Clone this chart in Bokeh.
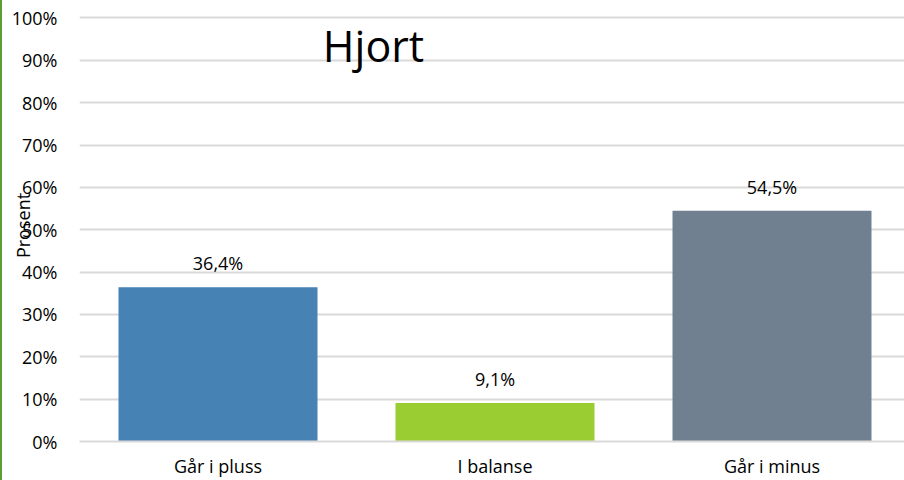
from bokeh.plotting import figure
from bokeh.models import Range1d, FixedTicker, NumeralTickFormatter, ColumnDataSource
from bokeh.core.properties import value
from bokeh.embed import file_html
from bokeh.resources import INLINE

categories = ["Går i pluss", "I balanse", "Går i minus"]
values = [0.364, 0.091, 0.545]
colors = ["#4682B4", "#9ACD32", "#708090"]
labels = ["36,4%", "9,1%", "54,5%"]
y_ticks = [0.0, 0.1, 0.2, 0.3, 0.4, 0.5, 0.6, 0.7, 0.8, 0.9, 1.0]
title_text = "Hjort"
y_label = "Prosent"

FONT = "Open Sans"
xs = [i + 0.5 for i in range(len(categories))]

p = figure(width=904, height=480, output_backend="svg", toolbar_location=None,
           x_range=Range1d(0, 827 / 277.0), y_range=Range1d(0, 1.02),
           min_border_left=77, min_border_top=9, min_border_right=0, min_border_bottom=0)
p.outline_line_color = None
p.background_fill_color = "white"

src = ColumnDataSource(dict(x=xs, top=values, color=colors, label=labels))
p.vbar(x="x", top="top", width=199 / 277.0, bottom=0, color="color", line_color=None, source=src)
p.text(x="x", y="top", text="label", source=src, text_align="center", text_baseline="bottom",
       y_offset=-12, text_font=value(FONT), text_font_size="18px", text_color="#000000")

p.text(x=[(373 - 79) / 277.0], y=[0.935], text=[title_text], text_align="center",
       text_baseline="middle", text_font=value(FONT), text_font_size="43px", text_color="#000000")

# axes
p.yaxis.ticker = FixedTicker(ticks=y_ticks)
p.yaxis.formatter = NumeralTickFormatter(format="0%")
p.yaxis.axis_line_color = None
p.yaxis.major_tick_line_color = None
p.yaxis.minor_tick_line_color = None
p.yaxis.major_label_standoff = 16
p.yaxis.major_label_text_font = FONT
p.yaxis.major_label_text_font_size = "18px"
p.yaxis.major_label_text_color = "#000000"
p.yaxis.axis_label = y_label
p.yaxis.axis_label_text_font = FONT
p.yaxis.axis_label_text_font_size = "18px"
p.yaxis.axis_label_text_font_style = "normal"
p.yaxis.axis_label_text_color = "#000000"
p.yaxis.axis_label_standoff = -26

p.xaxis.ticker = FixedTicker(ticks=xs)
p.xaxis.major_label_overrides = {x: c for x, c in zip(xs, categories)}
p.xaxis.axis_line_color = "#D9D9D9"
p.xaxis.axis_line_width = 2
p.xaxis.major_tick_line_color = None
p.xaxis.minor_tick_line_color = None
p.xaxis.major_tick_out = 0
p.xaxis.major_tick_in = 0
p.xaxis.major_label_standoff = 12
p.xaxis.major_label_text_font = FONT
p.xaxis.major_label_text_font_size = "18px"
p.xaxis.major_label_text_color = "#000000"

p.xgrid.grid_line_color = None
p.ygrid.grid_line_color = "#D9D9D9"
p.ygrid.grid_line_width = 2

p.styles = {"border-left": "2px solid #5E9C3A"}

open("out.html", "w").write(file_html(p, INLINE))
